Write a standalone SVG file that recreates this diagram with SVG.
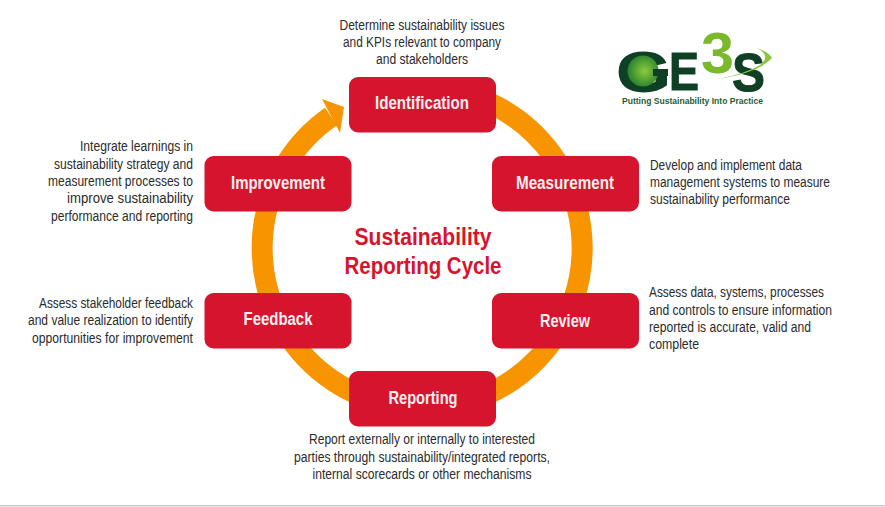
<svg xmlns="http://www.w3.org/2000/svg" width="885" height="507" viewBox="0 0 885 507">
<style>
text{font-family:"Liberation Sans",Arial,sans-serif}
.box{fill:#d6142d}
.lbl{fill:#fbeff0;font-size:18px;font-weight:700;text-anchor:middle}
.d{fill:#2b2b2b;font-size:14px}
.m{text-anchor:middle}
.e{text-anchor:end}
.t{fill:#d6142d;font-size:24px;font-weight:700;text-anchor:middle}
.lg{fill:#0f3f25;font-weight:700;stroke:#0f3f25}
</style>
<defs><radialGradient id="gl" cx="0.55" cy="0.5" r="0.6"><stop offset="0" stop-color="#8ccb3f"/><stop offset="1" stop-color="#1f7a2c"/></radialGradient></defs>
<rect width="885" height="507" fill="#fff"/>
<g id="connectors">
<path d="M422.500 88A160 160 0 1 1 331 116.500" fill="none" stroke="#f79400" stroke-width="21"/>
<polygon points="344,107 322,99 340,133" fill="#f79400"/>
</g>
<g id="identification"><rect class="box" x="349" y="77" width="147" height="55.500" rx="9"/><text class="lbl" x="422" y="109" textLength="94" lengthAdjust="spacingAndGlyphs">Identification</text>
<g class="d m"><text x="422" y="30" textLength="165" lengthAdjust="spacingAndGlyphs">Determine sustainability issues</text><text x="422" y="47" textLength="158" lengthAdjust="spacingAndGlyphs">and KPIs relevant to company</text><text x="422" y="64" textLength="92" lengthAdjust="spacingAndGlyphs">and stakeholders</text></g></g>
<g id="measurement"><rect class="box" x="492" y="156" width="147" height="55.500" rx="9"/><text class="lbl" x="565" y="189" textLength="98" lengthAdjust="spacingAndGlyphs">Measurement</text>
<g class="d"><text x="650" y="170" textLength="152" lengthAdjust="spacingAndGlyphs">Develop and implement data</text><text x="650" y="187" textLength="180" lengthAdjust="spacingAndGlyphs">management systems to measure</text><text x="650" y="204" textLength="140" lengthAdjust="spacingAndGlyphs">sustainability performance</text></g></g>
<g id="review"><rect class="box" x="492" y="293" width="147" height="55.500" rx="9"/><text class="lbl" x="565" y="327" textLength="50" lengthAdjust="spacingAndGlyphs">Review</text>
<g class="d"><text x="649" y="297" textLength="175" lengthAdjust="spacingAndGlyphs">Assess data, systems, processes</text><text x="649" y="315" textLength="183" lengthAdjust="spacingAndGlyphs">and controls to ensure information</text><text x="649" y="332" textLength="162" lengthAdjust="spacingAndGlyphs">reported is accurate, valid and</text><text x="649" y="349" textLength="50" lengthAdjust="spacingAndGlyphs">complete</text></g></g>
<g id="reporting"><rect class="box" x="349" y="371" width="147" height="55.500" rx="9"/><text class="lbl" x="423" y="404" textLength="69" lengthAdjust="spacingAndGlyphs">Reporting</text>
<g class="d m"><text x="422" y="444" textLength="226" lengthAdjust="spacingAndGlyphs">Report externally or internally to interested</text><text x="422" y="462" textLength="256" lengthAdjust="spacingAndGlyphs">parties through sustainability/integrated reports,</text><text x="422" y="479" textLength="219" lengthAdjust="spacingAndGlyphs">internal scorecards or other mechanisms</text></g></g>
<g id="feedback"><rect class="box" x="204.500" y="293" width="147" height="55.500" rx="9"/><text class="lbl" x="278" y="325" textLength="69" lengthAdjust="spacingAndGlyphs">Feedback</text>
<g class="d e"><text x="193" y="308" textLength="154" lengthAdjust="spacingAndGlyphs">Assess stakeholder feedback</text><text x="193" y="325" textLength="165" lengthAdjust="spacingAndGlyphs">and value realization to identify</text><text x="193" y="343" textLength="161" lengthAdjust="spacingAndGlyphs">opportunities for improvement</text></g></g>
<g id="improvement"><rect class="box" x="204.500" y="156" width="147" height="55.500" rx="9"/><text class="lbl" x="278" y="189" textLength="94" lengthAdjust="spacingAndGlyphs">Improvement</text>
<g class="d e"><text x="193" y="151" textLength="113" lengthAdjust="spacingAndGlyphs">Integrate learnings in</text><text x="193" y="169" textLength="139" lengthAdjust="spacingAndGlyphs">sustainability strategy and</text><text x="193" y="186" textLength="145" lengthAdjust="spacingAndGlyphs">measurement processes to</text><text x="193" y="203" textLength="126" lengthAdjust="spacingAndGlyphs">improve sustainability</text><text x="193" y="221" textLength="142" lengthAdjust="spacingAndGlyphs">performance and reporting</text></g></g>
<g id="title"><text class="t" x="423" y="245" textLength="137" lengthAdjust="spacingAndGlyphs">Sustainability</text><text class="t" x="423" y="274" textLength="157" lengthAdjust="spacingAndGlyphs">Reporting Cycle</text></g>
<g id="logo">
<text class="lg" x="617" y="91" font-size="56" stroke-width="2" textLength="53" lengthAdjust="spacingAndGlyphs">G</text>
<circle cx="643" cy="71" r="15.500" fill="url(#gl)"/>
<rect x="653" y="69" width="15" height="7" fill="#0f3f25"/>
<text class="lg" x="669" y="90" font-size="54" stroke-width="1" textLength="30" lengthAdjust="spacingAndGlyphs">E</text>
<text x="701" y="73" font-size="58" font-weight="700" fill="#7ab929" textLength="33" lengthAdjust="spacingAndGlyphs">3</text>
<text class="lg" x="732" y="91" font-size="54" stroke-width="1" textLength="33" lengthAdjust="spacingAndGlyphs">S</text>
<path d="M718 79Q760 72 772 58Q769 52 757 48Q772 56 760 65Q745 74 718 79Z" fill="#8cc63f"/>
<text x="622" y="104" font-size="8.500" font-weight="700" fill="#1f5c34" textLength="141" lengthAdjust="spacingAndGlyphs">Putting Sustainability Into Practice</text>
</g>
<rect x="0" y="505" width="885" height="1.500" fill="#c9c9c9"/>
</svg>
